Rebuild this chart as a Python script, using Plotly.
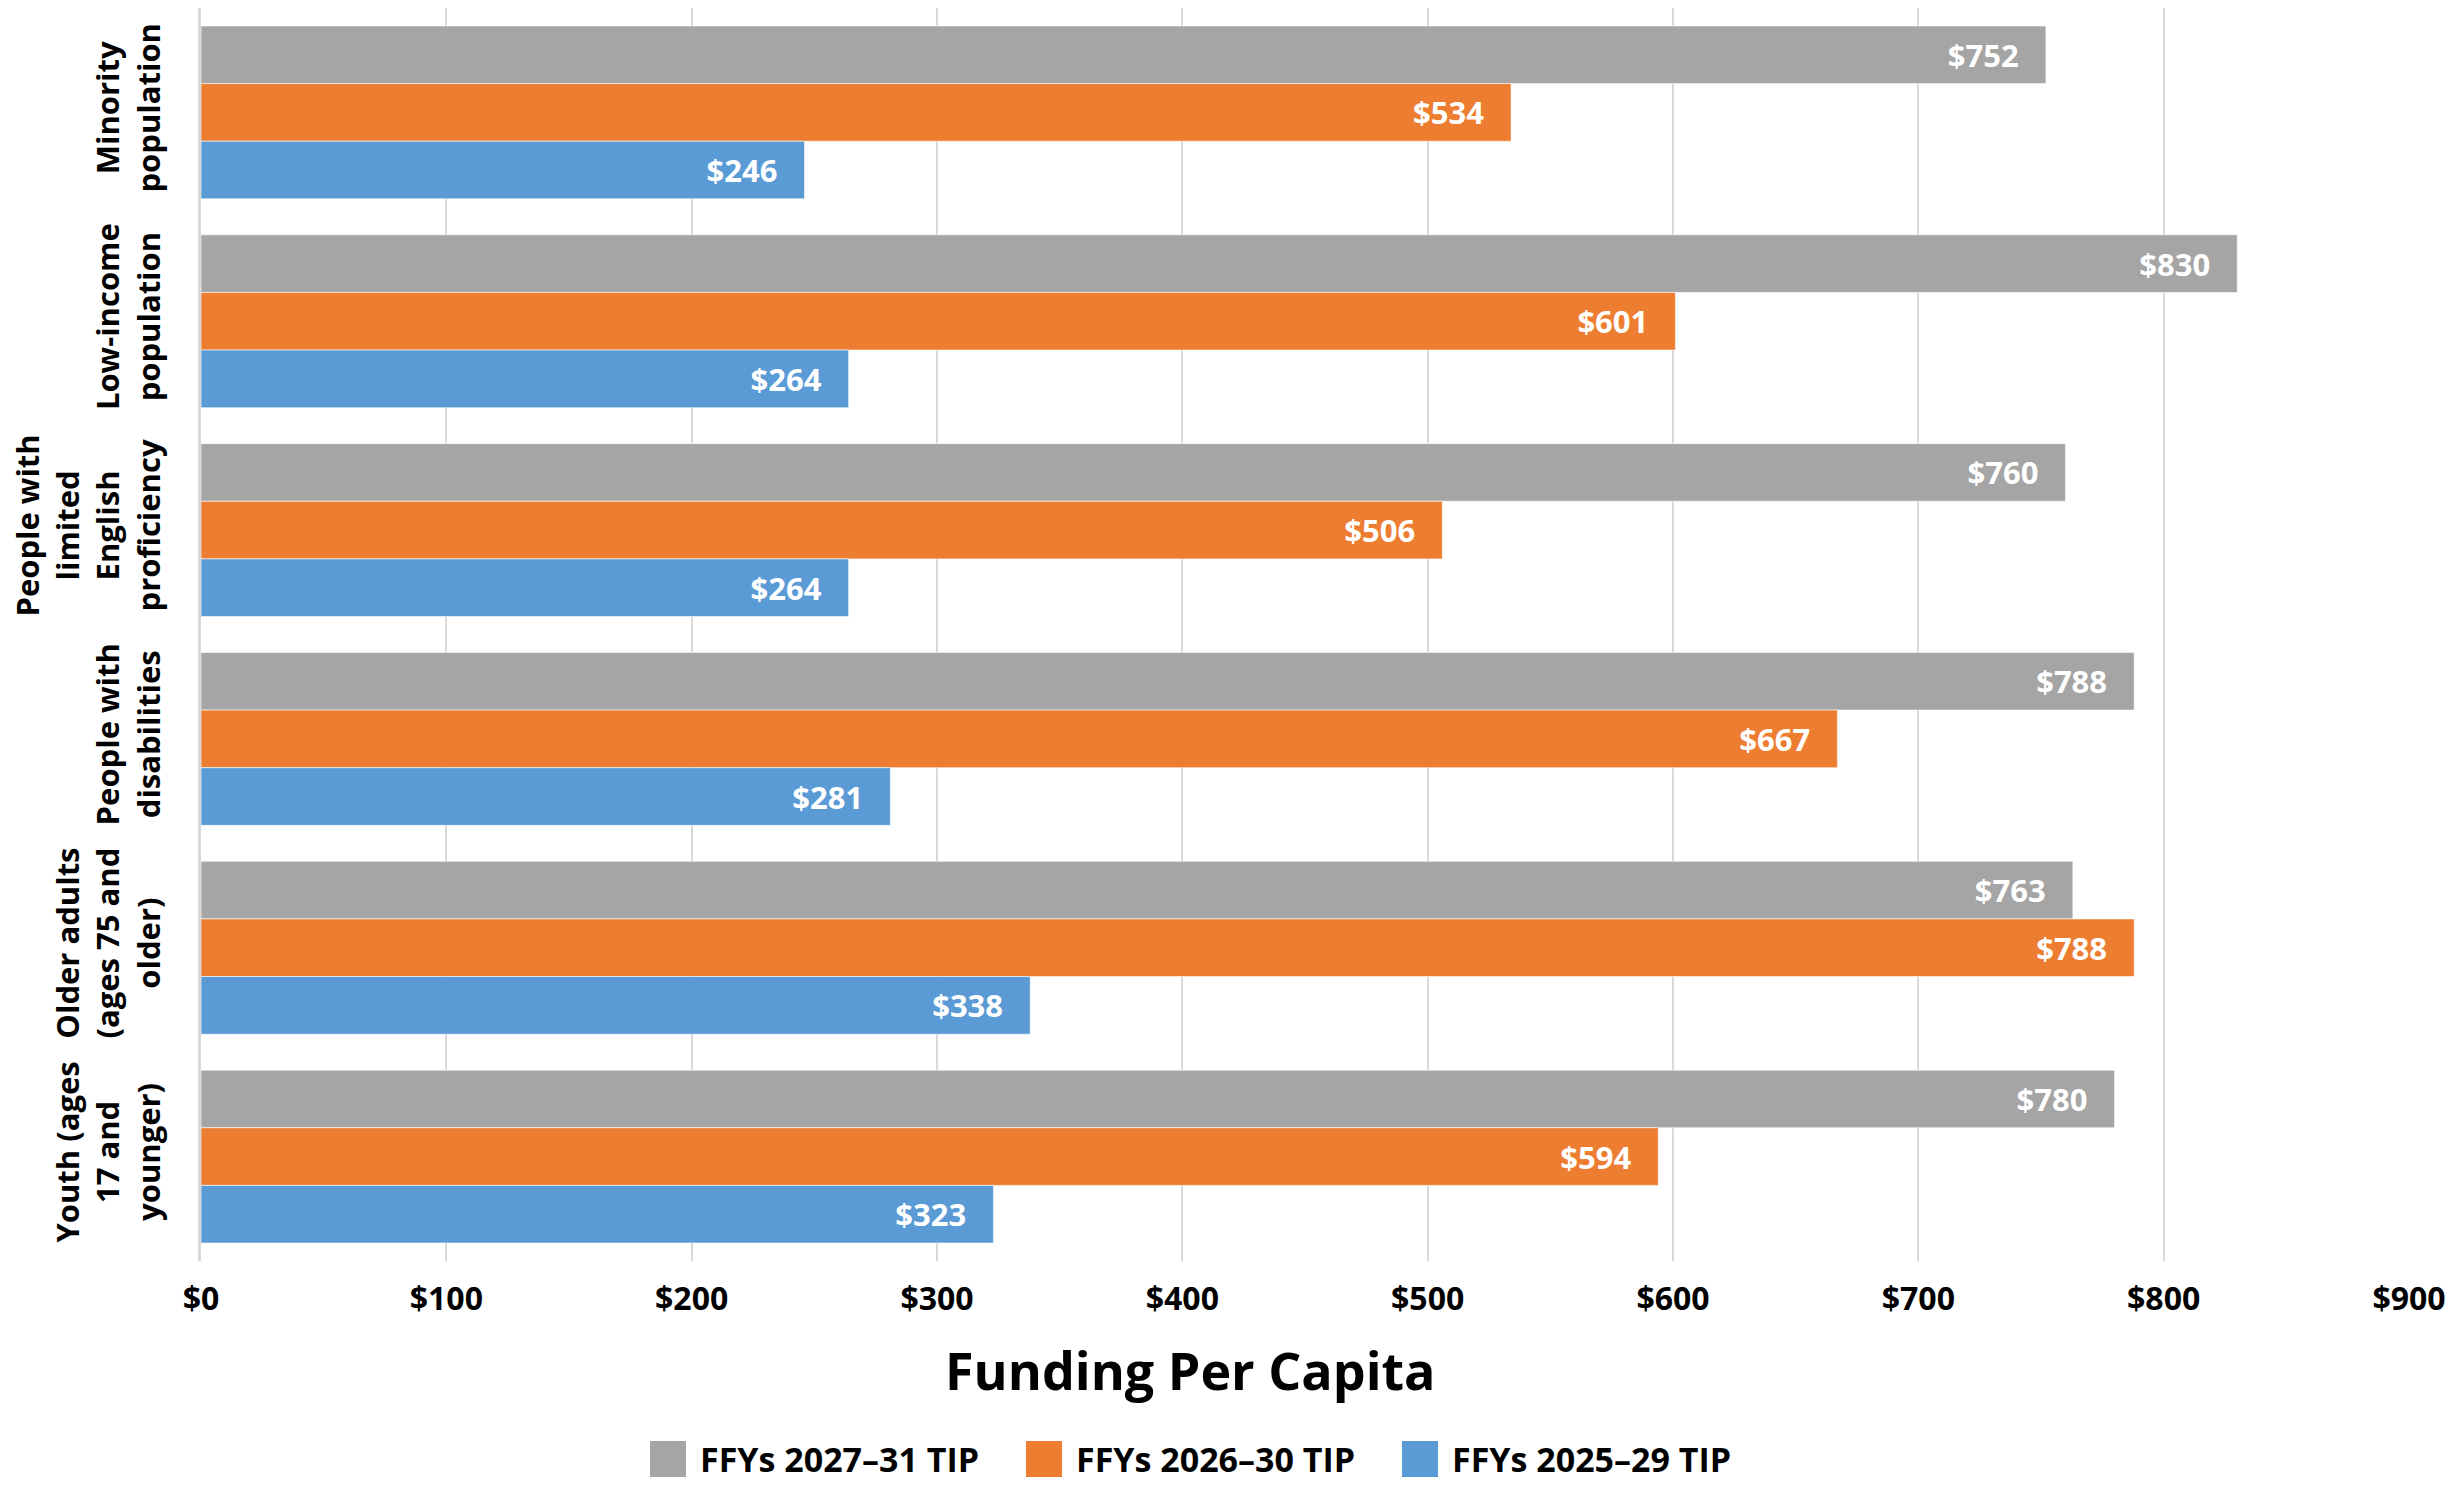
import plotly.graph_objects as go

categories = [
    "Minority<br>population",
    "Low-income<br>population",
    "People with<br>limited<br>English<br>proficiency",
    "People with<br>disabilities",
    "Older adults<br>(ages 75 and<br>older)",
    "Youth (ages<br>17 and<br>younger)",
]
series_names = ["FFYs 2027\u201331 TIP", "FFYs 2026\u201330 TIP", "FFYs 2025\u201329 TIP"]
tip_2027_31 = [752, 830, 760, 788, 763, 780]
tip_2026_30 = [534, 601, 506, 667, 788, 594]
tip_2025_29 = [246, 264, 264, 281, 338, 323]
colors = ["#A5A5A5", "#ED7D31", "#5B9BD5"]
x_ticks = [0, 100, 200, 300, 400, 500, 600, 700, 800, 900]

FONT = "Open Sans"
W, H = 2461, 1485
L, R, T, B = 201, 52, 8, 224
PW, PH = W - L - R, H - T - B


def px_x(px):
    return (px - L) / PW


def px_y(py):
    return (H - B - py) / PH


fig = go.Figure()
for name, vals, col in zip(series_names, [tip_2027_31, tip_2026_30, tip_2025_29], colors):
    fig.add_trace(go.Bar(
        y=categories, x=vals, orientation="h", name=name,
        marker=dict(color=col, line=dict(color="rgba(255,255,255,0.6)", width=1)),
        text=["$%d\u00a0\u00a0\u00a0" % v for v in vals],
        textposition="inside", insidetextanchor="end", textangle=0,
        constraintext="none",
        insidetextfont=dict(family=FONT, size=31, color="white", weight="bold"),
        showlegend=False, hoverinfo="x+name",
    ))

# custom legend (large square swatches)
shapes = []
annotations = []
leg_x0, leg_step, sq, leg_cy = 650, 376, 36, 1459
for i, (name, col) in enumerate(zip(series_names, colors)):
    x0 = leg_x0 + i * leg_step
    shapes.append(dict(type="rect", xref="paper", yref="paper",
                       x0=px_x(x0), x1=px_x(x0 + sq),
                       y0=px_y(leg_cy + sq / 2), y1=px_y(leg_cy - sq / 2),
                       fillcolor=col, line=dict(width=0)))
    annotations.append(dict(text=name, xref="paper", yref="paper",
                            x=px_x(x0 + 48), y=px_y(leg_cy), xanchor="left", yanchor="middle",
                            showarrow=False,
                            font=dict(family=FONT, size=34, weight="bold", color="black")))

annotations.append(dict(text="Funding Per Capita", x=px_x(1190), xref="paper", y=px_y(1370),
                        yref="paper", xanchor="center", yanchor="middle", showarrow=False,
                        font=dict(family=FONT, size=52, weight="bold", color="black")))

fig.update_layout(
    width=W, height=H,
    margin=dict(l=L, r=R, t=T, b=B, autoexpand=False),
    plot_bgcolor="white", paper_bgcolor="white",
    barmode="group", bargap=0.172, bargroupgap=0,
    font=dict(family=FONT, color="black", size=30, weight="bold"),
    showlegend=False,
    shapes=shapes,
    annotations=annotations,
)
fig.update_xaxes(
    range=[0, 900], tickvals=x_ticks, ticktext=["$%d" % v for v in x_ticks],
    showgrid=True, gridcolor="#D9D9D9", gridwidth=2, zeroline=False,
    showline=False, ticks="",
    ticklabelstandoff=16, automargin=False,
    tickfont=dict(family=FONT, size=32, weight="bold"),
)
fig.update_yaxes(
    autorange="reversed", tickangle=-90, showgrid=False,
    showline=True, linecolor="#D9D9D9", linewidth=3,
    ticks="", ticklabelstandoff=26, automargin=False,
    tickfont=dict(family=FONT, size=31, weight="bold"),
)
fig.write_html("out.html", config={"displayModeBar": False},
               post_script="document.body.style.margin='0';document.body.style.overflow='hidden';")
